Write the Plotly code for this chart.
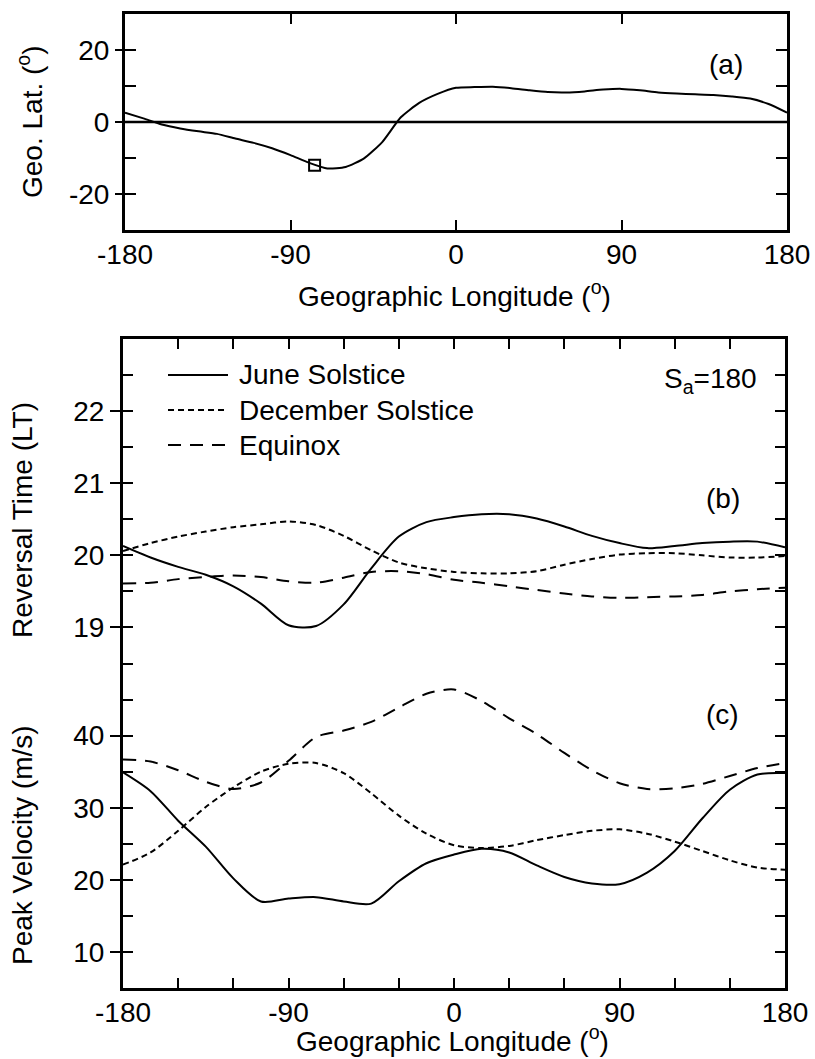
import plotly.graph_objects as go

# ---- data ---------------------------------------------------------------
# (a) magnetic equator position in geographic coordinates
lon_a = list(range(-180, 181, 10))
geo_lat = [2.6, 1.0, -0.7, -1.8, -2.6, -3.3, -4.6, -5.8, -7.3, -9.2,
           -11.3, -12.9, -12.5, -10.1, -5.5, 1.3, 5.3, 7.8, 9.5, 9.7,
           9.8, 9.4, 8.8, 8.3, 8.2, 8.5, 9.0, 9.2, 8.8, 8.2,
           7.9, 7.7, 7.5, 7.1, 6.5, 5.0, 2.6]
site_lon = [-76.9]
site_lat = [-12.0]

# (b), (c) longitude grid
lon = list(range(-180, 181, 15))

# (b) reversal time (LT)
rev_june = [20.13, 19.97, 19.84, 19.73, 19.57, 19.33, 19.03, 19.02, 19.32,
            19.82, 20.26, 20.46, 20.53, 20.57, 20.57, 20.51, 20.40, 20.27,
            20.17, 20.10, 20.13, 20.17, 20.19, 20.19, 20.11]
rev_dec = [20.06, 20.17, 20.26, 20.33, 20.39, 20.43, 20.47, 20.42, 20.27,
           20.07, 19.90, 19.82, 19.77, 19.75, 19.75, 19.78, 19.87, 19.95,
           20.01, 20.03, 20.03, 20.00, 19.97, 19.97, 19.99]
rev_equ = [19.61, 19.62, 19.67, 19.70, 19.72, 19.70, 19.64, 19.62, 19.69,
           19.77, 19.78, 19.74, 19.66, 19.62, 19.57, 19.52, 19.47, 19.43,
           19.41, 19.42, 19.43, 19.45, 19.50, 19.53, 19.55]

# (c) peak velocity (m/s)
vel_june = [34.9, 32.3, 28.2, 24.6, 20.2, 17.0, 17.4, 17.6, 17.0, 16.7,
            19.8, 22.3, 23.5, 24.3, 23.8, 22.0, 20.4, 19.5, 19.4, 21.0,
            24.0, 28.5, 32.5, 34.6, 34.8]
vel_dec = [22.1, 23.8, 26.8, 30.1, 32.8, 35.0, 36.1, 36.2, 34.8, 32.0,
           28.9, 26.4, 24.8, 24.4, 24.7, 25.5, 26.2, 26.8, 27.0, 26.4,
           25.3, 24.0, 22.7, 21.7, 21.4]
vel_equ = [36.7, 36.4, 35.2, 33.6, 32.6, 33.5, 36.5, 39.8, 40.7, 41.9,
           43.9, 45.8, 46.4, 44.8, 42.4, 40.2, 37.6, 35.2, 33.4, 32.6,
           32.7, 33.3, 34.4, 35.5, 36.2]

series_names = ["June Solstice", "December Solstice", "Equinox"]
lon_labels = [-180, -90, 0, 90, 180]
lon_minor = list(range(-180, 181, 30))
lat_ticks = [-20, -10, 0, 10, 20]
lat_labels = [-20, 0, 20]
time_labels = [19, 20, 21, 22]
vel_labels = [10, 20, 30, 40]

# ---- styling ------------------------------------------------------------
W, H = 815, 1059
FONT = "Liberation Sans, Arial, Helvetica, sans-serif"
FS = 28
DASHES = {"June Solstice": "solid",
          "December Solstice": "6px,4px",
          "Equinox": "13px,9px"}
LW = 2


def px(x):
    return x / W


def py(y):
    return 1 - y / H


fig = go.Figure()

# ---- panel (a) ----------------------------------------------------------
fig.add_trace(go.Scatter(x=[-180, 180], y=[0, 0], mode="lines",
                         line=dict(color="black", width=2.5),
                         xaxis="x", yaxis="y", hoverinfo="skip",
                         showlegend=False))
fig.add_trace(go.Scatter(x=lon_a, y=geo_lat, mode="lines",
                         line=dict(color="black", width=LW, shape="spline",
                                   smoothing=0.6),
                         xaxis="x", yaxis="y2", showlegend=False))
fig.add_trace(go.Scatter(x=site_lon, y=site_lat, mode="markers",
                         marker=dict(symbol="square-open", size=11,
                                     color="black", line=dict(width=2)),
                         xaxis="x", yaxis="y2", showlegend=False))

# ---- panel (b) ----------------------------------------------------------
for name, vals, yax in zip(series_names, [rev_june, rev_dec, rev_equ],
                           ["y3", "y3", "y4"]):
    fig.add_trace(go.Scatter(x=lon, y=vals, mode="lines", name=name,
                             line=dict(color="black", width=LW,
                                       dash=DASHES[name], shape="spline",
                                       smoothing=0.8),
                             xaxis="x2", yaxis=yax, showlegend=False))

# ---- panel (c) ----------------------------------------------------------
for name, vals in zip(series_names, [vel_june, vel_dec, vel_equ]):
    fig.add_trace(go.Scatter(x=lon, y=vals, mode="lines", name=name,
                             line=dict(color="black", width=LW,
                                       dash=DASHES[name], shape="spline",
                                       smoothing=0.8),
                             xaxis="x3", yaxis="y5", showlegend=False))

tick_font = dict(family=FONT, size=FS, color="black")
common = dict(showgrid=False, zeroline=False, showline=True,
              linecolor="black", tickcolor="black", tickwidth=2,
              tickfont=tick_font, fixedrange=True, automargin=False)

dom_a_x = [px(125), px(787)]
dom_a_y = [py(230), py(14)]
dom_b_x = [px(123), px(785)]
dom_b_y = [py(988), py(339)]

fig.update_layout(
    width=W, height=H,
    margin=dict(l=0, r=0, t=0, b=0, autoexpand=False),
    paper_bgcolor="white", plot_bgcolor="white",
    font=dict(family=FONT, size=FS, color="black"),
    showlegend=False,
    xaxis=dict(common, domain=dom_a_x, anchor="y", range=[-180, 180],
               tickmode="array", tickvals=lon_labels,
               ticktext=[str(v) for v in lon_labels],
               ticks="inside", ticklen=10, mirror="ticks", linewidth=3,
               ticklabelstandoff=-3),
    yaxis=dict(common, domain=dom_a_y, anchor="x", range=[-30, 30],
               tickmode="array", tickvals=lat_ticks, ticks="inside",
               ticklen=11, mirror="ticks", linewidth=3,
               showticklabels=False),
    yaxis2=dict(common, overlaying="y", anchor="x", side="left",
                range=[-30, 30], tickmode="array", tickvals=lat_labels,
                ticktext=[str(v) for v in lat_labels], ticks="outside",
                ticklen=7, linewidth=3),
    # bottom frame: labelled longitude axis + 30-degree inside ticks
    xaxis2=dict(common, domain=dom_b_x, anchor="y3", range=[-180, 180],
                tickmode="array", tickvals=lon_labels,
                ticktext=[str(v) for v in lon_labels],
                ticks="inside", ticklen=10, mirror="ticks", linewidth=3,
                ticklabelstandoff=-3),
    xaxis3=dict(common, overlaying="x2", anchor="y3", side="bottom",
                range=[-180, 180], tickmode="array", tickvals=lon_minor,
                ticks="inside", ticklen=10, mirror="ticks", linewidth=3,
                showticklabels=False),
    yaxis3=dict(common, domain=dom_b_y, anchor="x2", range=[14, 23],
                tickmode="array", tickvals=time_labels,
                ticktext=[str(v) for v in time_labels], ticks="outside",
                ticklen=10, linewidth=3),
    yaxis4=dict(common, overlaying="y3", anchor="x2", side="left",
                range=[14, 23], tickmode="array",
                tickvals=[14.5 + 0.5 * i for i in range(17)],
                ticks="inside", ticklen=10, mirror="ticks", linewidth=3,
                showticklabels=False),
    yaxis5=dict(common, overlaying="y3", anchor="x2", side="left",
                range=[5, 95], tickmode="array", tickvals=vel_labels,
                ticktext=[str(v) for v in vel_labels], ticks="outside",
                ticklen=10, linewidth=3),
)

# ---- legend key (line samples + labels) ---------------------------------
legend_rows = [375, 410, 445]
shapes = []
annotations = []
for name, yrow in zip(series_names, legend_rows):
    shapes.append(dict(type="line", xref="paper", yref="paper",
                       x0=px(168), x1=px(228), y0=py(yrow), y1=py(yrow),
                       line=dict(color="black", width=LW,
                                 dash=DASHES[name])))
    annotations.append(dict(text=name, xref="paper", yref="paper",
                            x=px(237), y=py(yrow), xanchor="left",
                            yanchor="middle", showarrow=False,
                            font=dict(family=FONT, size=FS, color="black")))


def label(text, x, y, size=FS, angle=0):
    annotations.append(dict(text=text, xref="paper", yref="paper",
                            x=px(x), y=py(y), xanchor="center",
                            yanchor="middle", showarrow=False, textangle=angle,
                            font=dict(family=FONT, size=size, color="black")))


label("(a)", 726, 64)
label("(b)", 723, 498)
label("(c)", 722, 714)
label("S<sub>a</sub>=180", 710, 380)
label("Geo. Lat. (<sup>o</sup>)", 30, 122, angle=-90)
label("Geographic Longitude (<sup>o</sup>)", 454, 294)
label("Reversal Time (LT)", 22, 520, angle=-90)
label("Peak Velocity (m/s)", 22, 845, angle=-90)
label("Geographic Longitude (<sup>o</sup>)", 452, 1039)

fig.update_layout(shapes=shapes, annotations=annotations)

fig.write_html("out.html")
